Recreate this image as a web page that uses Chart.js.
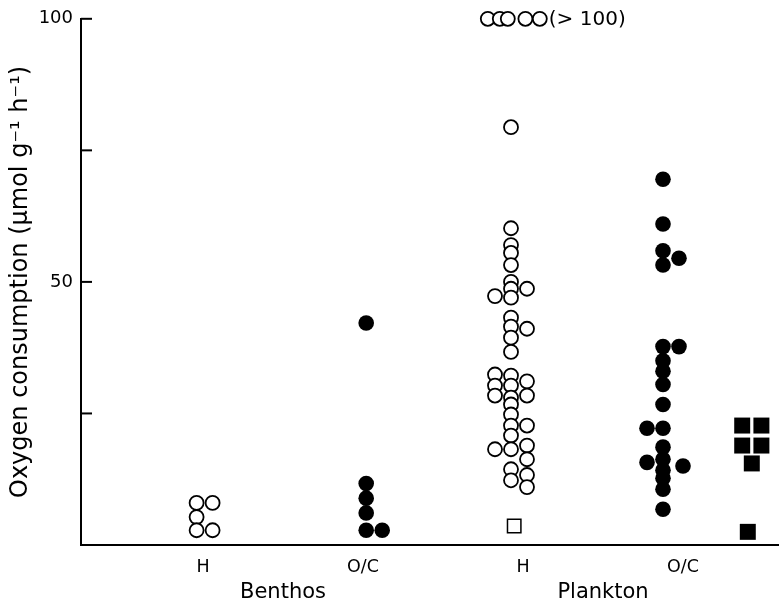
<!DOCTYPE html>
<html>
<head>
<meta charset="utf-8">
<script src="https://cdn.jsdelivr.net/npm/chart.js@4"></script>
<style>
  html, body { margin: 0; padding: 0; background: #fff; }
</style>
</head>
<body>
<canvas id="graficoOxigeno" width="779" height="607"></canvas>
<script>
// categorias y ticks
const categories = ['H', 'O/C', 'H', 'O/C'];
const groups = ['Benthos', 'Plankton'];
const yTicks = [25, 50, 75, 100];
const yLabels = [50, 100];

// valores; *Col = columna junto a la columna principal
const benthosH = [8, 8, 5.3, 2.8, 2.8];
const benthosHCol = [0, 1, 0, 0, 1];

const benthosOC = [42.2, 11.7, 8.9, 6.1, 2.8, 2.8];
const benthosOCCol = [0, 0, 0, 0, 0, 1];

const planktonH = [79.4, 60.2, 57.0, 55.5, 53.2, 50.0, 48.7, 48.7, 47.3, 47.0,
  43.2, 41.5, 41.1, 39.4, 36.7, 32.4, 32.2, 31.1, 30.3, 30.3,
  28.4, 28.0, 28.4, 26.7, 24.8, 22.7, 22.7, 20.8, 18.2, 18.2,
  18.9, 16.3, 14.4, 13.3, 12.3, 11.0];
const planktonHCol = [0, 0, 0, 0, 0, 0, 0, 1, -1, 0,
  0, 0, 1, 0, 0, -1, 0, 1, -1, 0,
  -1, 0, 1, 0, 0, 0, 1, 0, -1, 0,
  1, 1, 0, 1, 0, 1];

// > 100, dibujados en el borde superior
const planktonHOver = [100, 100, 100, 100, 100];
const planktonHOverCol = [-1.45, -0.7, -0.2, 0.9, 1.8];

const planktonHSquare = [3.6];
const planktonHSquareCol = [0.2];

const planktonOC = [69.5, 61.0, 55.9, 54.5, 53.2, 37.7, 37.7, 35.0, 33.0, 30.5,
  26.7, 22.2, 22.2, 18.6, 15.7, 16.3, 15.0, 14.2, 12.7, 10.6, 6.8];
const planktonOCCol = [0, 0, 0, 1, 0, 0, 1, 0, 0, 0,
  0, -1, 0, 0, -1, 0, 1.25, 0, 0, 0, 0];

const planktonOCSquare = [22.7, 22.7, 18.9, 18.9, 15.5, 2.5];
const planktonOCSquareCol = [-0.6, 0.6, -0.6, 0.6, 0, -0.25];

const step = 0.1;
const base = { bH: -0.04, bOC: 0.02, pH: -0.075, pOC: -0.125, pSq: 0.43 };

function puntos(cat, off, vals, cols) {
  return vals.map((v, i) => ({ x: cat + off + cols[i] * step, y: v }));
}

const fuente = '"DejaVu Sans", "Liberation Sans", sans-serif';

const extras = {
  id: 'extras',
  afterDraw(chart) {
    const { ctx, chartArea, scales: { x, y } } = chart;
    ctx.save();
    ctx.strokeStyle = '#000';
    ctx.lineWidth = 2;
    yTicks.forEach(v => {
      const py = y.getPixelForValue(v);
      ctx.beginPath();
      ctx.moveTo(chartArea.left, py);
      ctx.lineTo(chartArea.left + 11, py);
      ctx.stroke();
    });
    const lastX = x.getPixelForValue(3 + base.pH + planktonHOverCol[planktonHOverCol.length - 1] * step);
    ctx.fillStyle = '#000';
    ctx.font = '20px ' + fuente;
    ctx.textBaseline = 'middle';
    ctx.fillText('(> 100)', lastX + 9, y.getPixelForValue(100) + 1);
    ctx.restore();
  }
};

const ctx = document.getElementById('graficoOxigeno').getContext('2d');
new Chart(ctx, {
  type: 'scatter',
  data: {
    datasets: [
      {
        label: 'abiertos',
        data: [
          ...puntos(1, base.bH, benthosH, benthosHCol),
          ...puntos(3, base.pH, planktonH, planktonHCol),
          ...puntos(3, base.pH, planktonHOver, planktonHOverCol)
        ],
        pointStyle: 'circle',
        backgroundColor: '#fff',
        borderColor: '#000',
        borderWidth: 1.8,
        pointRadius: 7,
        clip: false
      },
      {
        label: 'llenos',
        data: [
          ...puntos(2, base.bOC, benthosOC, benthosOCCol),
          ...puntos(4, base.pOC, planktonOC, planktonOCCol)
        ],
        pointStyle: 'circle',
        backgroundColor: '#000',
        borderColor: '#000',
        borderWidth: 0,
        pointRadius: 7.8,
        clip: false
      },
      {
        label: 'cuadrado abierto',
        data: puntos(3, base.pH, planktonHSquare, planktonHSquareCol),
        pointStyle: 'rect',
        backgroundColor: '#fff',
        borderColor: '#000',
        borderWidth: 1.5,
        pointRadius: 9.5,
        clip: false
      },
      {
        label: 'cuadrados llenos',
        data: puntos(4, base.pSq, planktonOCSquare, planktonOCSquareCol),
        pointStyle: 'rect',
        backgroundColor: '#000',
        borderColor: '#000',
        borderWidth: 0,
        pointRadius: 11.3,
        clip: false
      }
    ]
  },
  options: {
    responsive: false,
    animation: false,
    layout: { autoPadding: false, padding: { top: 17, right: 0, bottom: 0, left: 0 } },
    plugins: {
      legend: { display: false },
      tooltip: { enabled: false }
    },
    scales: {
      x: {
        type: 'linear',
        position: 'bottom',
        min: 0.2375,
        max: 4.6,
        afterBuildTicks: s => { s.ticks = categories.map((c, i) => ({ value: i + 1 })); },
        afterFit: s => { s.height = 32; },
        ticks: {
          callback: (v, i) => categories[i],
          autoSkip: false,
          maxRotation: 0,
          padding: 12,
          color: '#000',
          font: { family: fuente, size: 17.5 }
        },
        grid: { display: false, drawTicks: false },
        border: { display: true, color: '#000', width: 2 }
      },
      x2: {
        type: 'linear',
        position: 'bottom',
        min: 0.2375,
        max: 4.6,
        afterBuildTicks: s => { s.ticks = groups.map((g, i) => ({ value: 1.5 + 2 * i })); },
        afterFit: s => { s.height = 30; },
        ticks: {
          callback: (v, i) => groups[i],
          autoSkip: false,
          maxRotation: 0,
          padding: 3,
          color: '#000',
          font: { family: fuente, size: 21 }
        },
        grid: { display: false, drawTicks: false },
        border: { display: false }
      },
      y: {
        min: 0,
        max: 100,
        afterBuildTicks: s => { s.ticks = yTicks.map(v => ({ value: v })); },
        afterFit: s => { s.width = 81; },
        ticks: {
          callback: v => yLabels.includes(v) ? String(v) : '',
          padding: 8,
          color: '#000',
          font: { family: fuente, size: 18 }
        },
        grid: { display: false, drawTicks: false },
        border: { display: true, color: '#000', width: 2 },
        title: {
          display: true,
          text: 'Oxygen consumption (μmol g⁻¹ h⁻¹)',
          color: '#000',
          font: { family: fuente, size: 24 },
          padding: { top: 6, bottom: 0 }
        }
      }
    }
  },
  plugins: [extras]
});
</script>
</body>
</html>
